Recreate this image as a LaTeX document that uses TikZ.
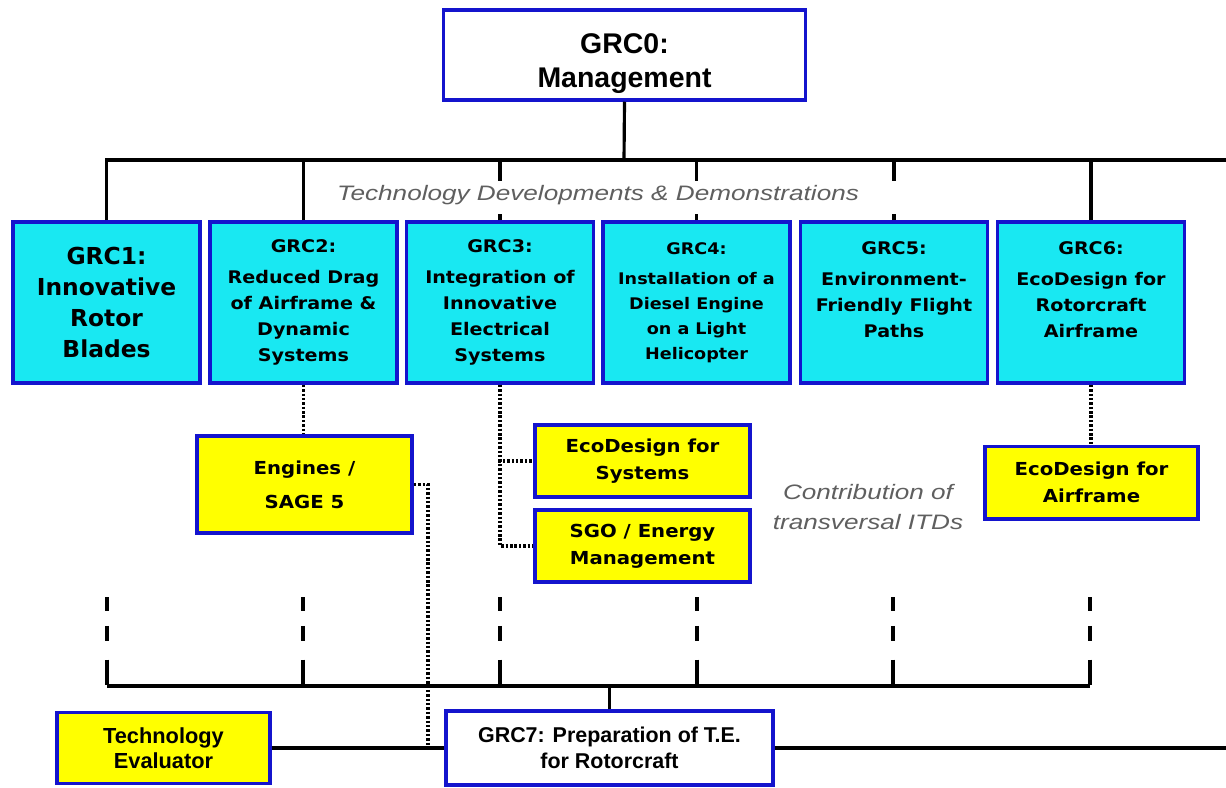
\documentclass[tikz,border=0pt]{standalone}
\usepackage{fontspec}
\setmainfont{Liberation Sans}
\newfontfamily\grcfont[FakeStretch=1.1]{DejaVu Sans}
\newfontfamily\bigfont{DejaVu Sans}
\newfontfamily\notefont[FakeStretch=1.25]{Liberation Sans}
\definecolor{grcblue}{RGB}{20,20,205}
\definecolor{grccyan}{RGB}{25,232,242}
\definecolor{itdyellow}{RGB}{255,255,0}
\definecolor{notegray}{RGB}{95,95,95}
\tikzset{
  mainbox/.style={draw=grcblue, line width=2pt, fill=white, align=center, inner sep=0pt,
    font=\fontsize{16.2}{19.3}\selectfont\bfseries},
  grcbox/.style={draw=grcblue, line width=2pt, fill=grccyan, minimum width=3.74cm,
    minimum height=3.22cm, align=center, inner sep=0pt,
    font=\grcfont\fontsize{9.9}{14.7}\selectfont\bfseries},
  itdbox/.style={draw=grcblue, line width=2pt, fill=itdyellow, minimum width=4.3cm,
    minimum height=1.45cm, align=center, inner sep=0pt,
    font=\grcfont\fontsize{10.2}{15.3}\selectfont\bfseries},
  note/.style={text=notegray, align=center, inner sep=0pt,
    font=\notefont\itshape\fontsize{11.9}{17.6}\selectfont},
  bus/.style={line width=1.8pt},
  itdlink/.style={line width=2.2pt, dash pattern=on 1.4pt off 1.1pt},
  drop/.style={line width=1.8pt, dash pattern=on 7.9pt off 8.5pt on 8.5pt off 10.8pt on 14.2pt}
}
\begin{document}
\begin{tikzpicture}[x=0.02cm, y=-0.02cm]
  \useasboundingbox (0,0) rectangle (1226,787);

  % management and the six technology boxes
  \node[mainbox, minimum width=7.24cm, minimum height=1.8cm] (g0) at (624.5,55)
    {\rule{0pt}{21pt}GRC0:\\Management};
  \node[grcbox, font=\bigfont\fontsize{13.3}{17.6}\selectfont\bfseries] (g1) at (106.5,302.5)
    {GRC1:\\Innovative\\Rotor\\Blades};
  \node[grcbox] (g2) at (303.5,302.5) {GRC2:\\[3pt]Reduced Drag\\of Airframe \&\\Dynamic\\Systems};
  \node[grcbox] (g3) at (500,302.5) {GRC3:\\[3pt]Integration of\\Innovative\\Electrical\\Systems};
  \node[grcbox, font=\grcfont\fontsize{9.1}{14.2}\selectfont\bfseries] (g4) at (696.5,302.5)
    {GRC4:\\[3pt]Installation of a\\Diesel Engine\\on a Light\\Helicopter};
  \node[grcbox] (g5) at (894,302.5) {GRC5:\\[3pt]Environment-\\Friendly Flight\\Paths\\\mbox{}};
  \node[grcbox] (g6) at (1091,302.5) {GRC6:\\[3pt]EcoDesign for\\Rotorcraft\\Airframe\\\mbox{}};

  % transversal ITDs
  \node[itdbox, minimum height=1.94cm, font=\grcfont\fontsize{10.2}{19.3}\selectfont\bfseries] (eng)
    at (304.5,484.5) {Engines /\\SAGE 5};
  \node[itdbox] (ecosys) at (642.5,461) {EcoDesign for\\Systems};
  \node[itdbox] (sgo) at (642.5,546) {SGO / Energy\\Management};
  \node[itdbox, minimum width=4.26cm] (ecoair) at (1091.5,482.5) {EcoDesign for\\Airframe};

  % technology evaluator
  \node[itdbox, minimum width=4.26cm, minimum height=1.42cm,
    font=\fontsize{12.4}{14.2}\selectfont\bfseries] (te) at (163.5,748) {Technology\\Evaluator};
  \node[mainbox, minimum width=6.54cm, minimum height=1.48cm,
    font=\fontsize{12.2}{14.7}\selectfont\bfseries] (g7) at (609.5,748) {GRC7: Preparation of T.E.\\for Rotorcraft};

  \coordinate (topbus) at (624,160);
  \coordinate (topend) at (1226,160);
  \coordinate (lowbus) at (610,686);
  \coordinate (rightend) at (1226,748);
  \coordinate (engdrop) at (428,748);
  \coordinate (d1) at (107,597);
  \coordinate (d2) at (303,597);
  \coordinate (d3) at (500,597);
  \coordinate (d4) at (697,597);
  \coordinate (d5) at (893,597);
  \coordinate (d6) at (1090,597);

  \begin{scope}[bus]
    \draw (g0.south) -- (topbus);
    \draw (g1.north) |- (topend);
    \draw (g2.north) -- (g2.north |- topbus);
    \draw (g3.north) -- (g3.north |- topbus);
    \draw (g4.north) -- (g4.north |- topbus);
    \draw (g5.north) -- (g5.north |- topbus);
    \draw (g6.north) -- (g6.north |- topbus);
    \draw (d1 |- lowbus) -- (d6 |- lowbus);
    \draw (g7.north) -- (g7.north |- lowbus);
    \draw (te.east) -- (g7.west);
    \draw (g7.east) -- (rightend);
  \end{scope}

  \begin{scope}[drop]
    \draw (d1) -- (d1 |- lowbus);
    \draw (d2) -- (d2 |- lowbus);
    \draw (d3) -- (d3 |- lowbus);
    \draw (d4) -- (d4 |- lowbus);
    \draw (d5) -- (d5 |- lowbus);
    \draw (d6) -- (d6 |- lowbus);
  \end{scope}

  \begin{scope}[itdlink]
    \draw (g2.south) -- (g2.south |- eng.north);
    \draw (g3.south) |- (ecosys.west);
    \draw (g3.south) |- (sgo.west);
    \draw (g6.south) -- (g6.south |- ecoair.north);
    \draw (eng.east) -| (engdrop);
  \end{scope}

  % labels, the first one blanks the drops behind it
  \fill[white] (315,181) rectangle (1000,214);
  \node[note] (tdd) at (598,195) {Technology Developments \& Demonstrations};
  \node[note] (itd) at (868,507) {Contribution of\\transversal ITDs};
\end{tikzpicture}
\end{document}
